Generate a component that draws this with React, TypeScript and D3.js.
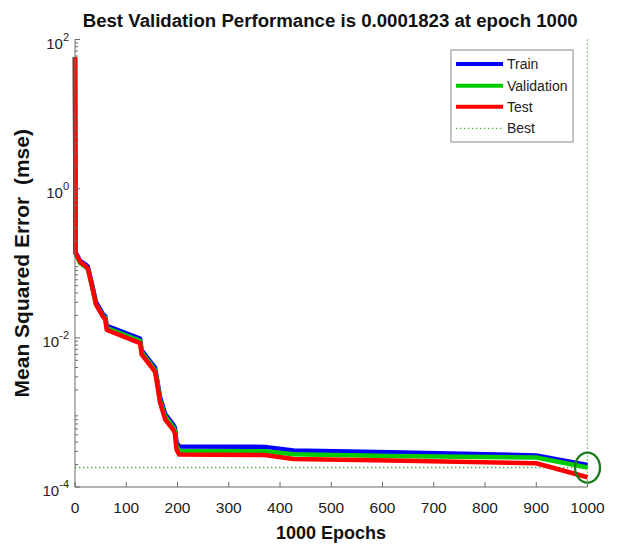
import React from "react";
import * as d3 from "d3";

const epochs = [0, 1, 10, 20, 25, 33, 41, 55, 59, 62, 127, 130, 150, 156, 158, 166, 176, 192, 195, 198, 203, 370, 426, 615, 900, 1000];
const trainMse = [58, 0.14, 0.108, 0.097, 0.09, 0.053, 0.03, 0.0205, 0.0195, 0.0145, 0.0098, 0.0068, 0.0045, 0.004, 0.0034, 0.0016, 0.00095, 0.00068, 0.00062, 0.0004, 0.00035, 0.000345, 0.000309, 0.000293, 0.000265, 0.000197];
const validationMse = [58, 0.135, 0.1, 0.09, 0.084, 0.05, 0.028, 0.0195, 0.0186, 0.0135, 0.0091, 0.0064, 0.0042, 0.0037, 0.0032, 0.00145, 0.00087, 0.00063, 0.00057, 0.00036, 0.000305, 0.000302, 0.000274, 0.000261, 0.000248, 0.0001823];
const testMse = [58, 0.138, 0.105, 0.092, 0.085, 0.05, 0.028, 0.019, 0.0178, 0.0128, 0.0085, 0.006, 0.004, 0.0035, 0.003, 0.00135, 0.0008, 0.00058, 0.00052, 0.00032, 0.000272, 0.000268, 0.000238, 0.000226, 0.000208, 0.000135];

const bestEpoch = 1000;
const bestValue = 0.0001823;

const xTicks = [0, 100, 200, 300, 400, 500, 600, 700, 800, 900, 1000];
const yMajorExponents = [2, 0, -2, -4];

const seriesNames = ["Train", "Validation", "Test"];
const seriesColors = ["#0000ff", "#00cc00", "#ff0000"];

const title = "Best Validation Performance is 0.0001823 at epoch 1000";
const xLabel = "1000 Epochs";
const yLabel = "Mean Squared Error  (mse)";

export default function App() {
  const left = 75, right = 587.5, top = 39.5, bottom = 487;
  const x = d3.scaleLinear().domain([0, 1000]).range([left, right]);
  const y = d3.scaleLog().domain([1e-4, 1e2]).range([bottom, top]);

  const line = d3
    .line<[number, number]>()
    .x((d) => x(d[0]))
    .y((d) => y(d[1]));

  const seriesData = [trainMse, validationMse, testMse];

  const minorTicks: number[] = [];
  for (let e = -4; e < 2; e++) {
    for (let m = 2; m <= 9; m++) minorTicks.push(m * Math.pow(10, e));
  }

  const axisColor = "#6a6a6a";
  const textColor = "#222";
  const bestColor = "#3cb43c";
  const font = "Arial, 'Liberation Sans', sans-serif";

  const legendX = 451, legendY = 50, legendW = 122, legendH = 92;
  const legendRows = [64, 85.7, 106.7, 128.3];
  const bestY = Math.round(y(bestValue)) - 0.5;

  return (
    <svg
      width={618}
      height={547}
      style={{ position: "absolute", left: 0, top: 0, background: "#fff" }}
      fontFamily={font}
    >
      <rect x={0} y={0} width={618} height={547} fill="#fff" />
      {/* Title */}
      <text
        x={82.7}
        y={27}
        fontSize={18}
        fontWeight="bold"
        fill="#111"
        textLength={495}
        lengthAdjust="spacingAndGlyphs"
      >
        {title}
      </text>

      {/* Best lines */}
      <line
        x1={x(0)}
        x2={x(bestEpoch)}
        y1={bestY}
        y2={bestY}
        stroke={bestColor}
        strokeWidth={1.3}
        strokeDasharray="1.3,2.7"
      />
      <line
        x1={x(bestEpoch)}
        x2={x(bestEpoch)}
        y1={top}
        y2={bottom}
        stroke={bestColor}
        strokeWidth={1.3}
        strokeDasharray="1.3,2.7"
      />

      {/* Series */}
      {seriesData.map((vals, i) => (
        <path
          key={seriesNames[i]}
          d={line(epochs.map((e, j) => [e, vals[j]] as [number, number])) || ""}
          fill="none"
          stroke={seriesColors[i]}
          strokeWidth={4.5}
          strokeLinejoin="round"
          strokeLinecap="butt"
        />
      ))}

      {/* Best marker */}
      <ellipse
        cx={x(bestEpoch)}
        cy={y(bestValue)}
        rx={12.5}
        ry={15}
        fill="none"
        stroke="#1a7d1a"
        strokeWidth={2.3}
      />

      {/* Axes */}
      <line x1={left} x2={left} y1={top} y2={bottom} stroke={axisColor} strokeWidth={1} />
      <line x1={left} x2={right} y1={bottom} y2={bottom} stroke={axisColor} strokeWidth={1} />

      {/* X ticks */}
      {xTicks.map((t) => (
        <g key={"xt" + t}>
          <line x1={x(t)} x2={x(t)} y1={bottom} y2={bottom - 5} stroke={axisColor} />
          <text x={x(t)} y={513} fontSize={15.5} textAnchor="middle" fill={textColor}>
            {t}
          </text>
        </g>
      ))}

      {/* Y minor ticks */}
      {minorTicks.map((t, i) => (
        <line key={"ym" + i} x1={left} x2={left + 3} y1={y(t)} y2={y(t)} stroke={axisColor} />
      ))}
      {/* Y major ticks */}
      {yMajorExponents.map((ex) => {
        const v = Math.pow(10, ex);
        return (
          <g key={"yM" + ex}>
            <line x1={left} x2={left + 5} y1={y(v)} y2={y(v)} stroke={axisColor} />
            <text x={69} y={y(v) + 9} fontSize={15} textAnchor="end" fill={textColor}>
              10
              <tspan dy={-8} fontSize={11}>
                {ex}
              </tspan>
            </text>
          </g>
        );
      })}

      {/* Axis labels */}
      <text
        x={331}
        y={539}
        fontSize={18}
        fontWeight="bold"
        textAnchor="middle"
        fill="#111"
      >
        {xLabel}
      </text>
      <text
        transform={`translate(28.5, ${(top + bottom) / 2}) rotate(-90)`}
        x={0}
        y={0}
        fontSize={21}
        fontWeight="bold"
        textAnchor="middle"
        fill="#111"
        style={{ whiteSpace: "pre" }}
      >
        {yLabel}
      </text>

      {/* Legend */}
      <rect
        x={legendX}
        y={legendY}
        width={legendW}
        height={legendH}
        fill="#fff"
        stroke="#8a8a8a"
        strokeWidth={1}
      />
      {seriesNames.map((n, i) => (
        <g key={"lg" + n}>
          <line
            x1={456}
            x2={503}
            y1={legendRows[i]}
            y2={legendRows[i]}
            stroke={seriesColors[i]}
            strokeWidth={4}
          />
          <text x={507} y={legendRows[i] + 5} fontSize={14} fill={textColor}>
            {n}
          </text>
        </g>
      ))}
      <line
        x1={456}
        x2={503}
        y1={legendRows[3]}
        y2={legendRows[3]}
        stroke={bestColor}
        strokeWidth={1.3}
        strokeDasharray="1.3,2.7"
      />
      <text x={507} y={legendRows[3] + 5} fontSize={14} fill={textColor}>
        Best
      </text>
    </svg>
  );
}
